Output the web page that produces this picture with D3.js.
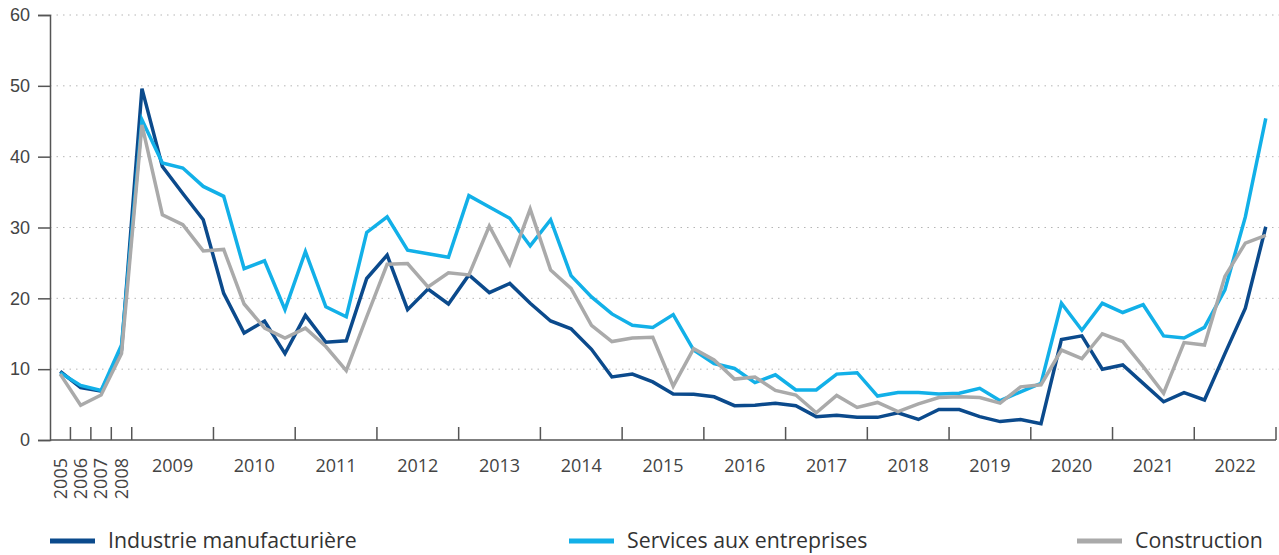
<!DOCTYPE html>
<html>
<head>
<meta charset="utf-8">
<script src="https://cdn.jsdelivr.net/npm/d3@7"></script>
<style>
  body { margin: 0; background: #fff; }
  svg { display: block; font-family: "Open Sans", "Noto Sans", sans-serif; }
</style>
</head>
<body>
<div id="chart"></div>
<script>
// annual points first, then quarterly
const annualYears = ["2005", "2006", "2007", "2008"];
const quarterYears = ["2009", "2010", "2011", "2012", "2013", "2014", "2015",
  "2016", "2017", "2018", "2019", "2020", "2021", "2022"];
const categories = annualYears.concat(
  quarterYears.flatMap(y => ["T1", "T2", "T3", "T4"].map(q => y + q))
);

const yTicks = [0, 10, 20, 30, 40, 50, 60];

const industrie = [9.7, 7.4, 6.9, 12.7,
  49.6, 38.6, 34.8, 31.1, 20.7, 15.1, 16.8, 12.2, 17.6, 13.8, 14.0, 22.8,
  26.1, 18.4, 21.3, 19.2, 23.3, 20.8, 22.1, 19.3, 16.8, 15.7, 12.8, 8.9,
  9.3, 8.2, 6.5, 6.45, 6.1, 4.85, 4.9, 5.2, 4.85, 3.3, 3.5, 3.2,
  3.2, 3.85, 2.9, 4.3, 4.3, 3.3, 2.6, 2.9, 2.3, 14.2, 14.7, 10.0,
  10.6, 8.0, 5.4, 6.7, 5.65, 12.2, 18.6, 30.1];

const services = [9.5, 7.7, 7.0, 13.4,
  45.2, 39.1, 38.4, 35.8, 34.4, 24.2, 25.3, 18.4, 26.6, 18.8, 17.4, 29.3,
  31.5, 26.8, 26.3, 25.8, 34.5, 32.9, 31.3, 27.4, 31.1, 23.2, 20.2, 17.8,
  16.2, 15.9, 17.7, 12.7, 10.8, 10.1, 8.1, 9.2, 7.06, 7.06, 9.3, 9.5,
  6.2, 6.7, 6.7, 6.5, 6.6, 7.3, 5.55, 6.8, 8.0, 19.3, 15.5, 19.3,
  18.0, 19.1, 14.7, 14.4, 15.9, 21.2, 31.5, 45.4];

const construction = [9.3, 4.9, 6.35, 12.2,
  44.5, 31.8, 30.4, 26.7, 26.9, 19.2, 15.8, 14.4, 15.8, 13.2, 9.8, 17.4,
  24.8, 24.9, 21.6, 23.6, 23.3, 30.2, 24.8, 32.6, 24.0, 21.4, 16.2, 13.9,
  14.4, 14.5, 7.6, 12.9, 11.3, 8.6, 8.9, 7.0, 6.35, 3.85, 6.3, 4.6,
  5.3, 4.0, 5.1, 6.0, 6.1, 6.0, 5.2, 7.5, 7.8, 12.7, 11.5, 15.0,
  13.9, 10.35, 6.6, 13.75, 13.4, 23.1, 27.8, 28.9];

const series = [
  { name: "Industrie manufacturière", values: industrie, color: "#0b4a8c", lx: 50 },
  { name: "Services aux entreprises", values: services, color: "#12b0e8", lx: 569 },
  { name: "Construction", values: construction, color: "#aaaaaa", lx: 1077 }
];

const W = 1279, H = 555;
const margin = { left: 50, right: 1276, top: 15, bottom: 440 };

const svg = d3.select("#chart").append("svg")
  .attr("width", W).attr("height", H);

const x = d3.scaleBand().domain(categories).range([margin.left, margin.right]).padding(0);
const y = d3.scaleLinear().domain([0, 60]).range([margin.bottom, margin.top]);
const cx = c => x(c) + x.bandwidth() / 2;

// grid
svg.append("g").selectAll("line")
  .data(yTicks.filter(d => d > 0))
  .enter().append("line")
  .attr("x1", margin.left).attr("x2", W)
  .attr("y1", d => y(d)).attr("y2", d => y(d))
  .attr("stroke", "#b5b5b5").attr("stroke-width", 1)
  .attr("stroke-dasharray", "1.5,5");

// y axis
const yAxis = svg.append("g")
  .attr("transform", `translate(${margin.left},0)`)
  .call(d3.axisLeft(y).tickValues(yTicks).tickSize(12).tickPadding(8).tickFormat(d3.format("d")));
yAxis.select(".domain").attr("stroke", "#555").attr("stroke-width", 1.5);
yAxis.selectAll(".tick line").attr("stroke", "#555").attr("stroke-width", 1.5);
yAxis.selectAll("text").attr("fill", "#444").style("font-size", "18px");

// x axis line and ticks at year boundaries
const xg = svg.append("g");
xg.append("line")
  .attr("x1", margin.left).attr("x2", margin.right)
  .attr("y1", margin.bottom).attr("y2", margin.bottom)
  .attr("stroke", "#555").attr("stroke-width", 1.5);

const boundaries = annualYears.slice(1).map(c => x(c))
  .concat(quarterYears.map(yr => x(yr + "T4") + x.bandwidth()));
boundaries.unshift(x(quarterYears[0] + "T1"));
xg.selectAll(".xt").data(boundaries).enter().append("line")
  .attr("x1", d => d).attr("x2", d => d)
  .attr("y1", margin.bottom).attr("y2", margin.bottom - 13)
  .attr("stroke", "#555").attr("stroke-width", 1.5);

// rotated annual labels
xg.selectAll(".al").data(annualYears).enter().append("text")
  .attr("transform", d => `translate(${cx(d)},458) rotate(-90)`)
  .attr("text-anchor", "end")
  .attr("dy", "0.35em")
  .attr("fill", "#444")
  .style("font-size", "18px")
  .text(d => d);

// quarterly year labels
xg.selectAll(".ql").data(quarterYears).enter().append("text")
  .attr("x", d => (x(d + "T1") + x(d + "T4") + x.bandwidth()) / 2)
  .attr("y", 472)
  .attr("text-anchor", "middle")
  .attr("fill", "#444")
  .style("font-size", "18px")
  .text(d => d);

// lines
const line = d3.line()
  .x((d, i) => cx(categories[i]))
  .y(d => y(d));

svg.append("g").selectAll("path")
  .data(series)
  .enter().append("path")
  .attr("d", d => line(d.values))
  .attr("fill", "none")
  .attr("stroke", d => d.color)
  .attr("stroke-width", 3.5)
  .attr("stroke-linejoin", "miter");

// legend
const lg = svg.append("g").selectAll("g")
  .data(series)
  .enter().append("g")
  .attr("transform", d => `translate(${d.lx},541)`);
lg.append("line")
  .attr("x1", 0).attr("x2", 45)
  .attr("stroke", d => d.color).attr("stroke-width", 5);
lg.append("text")
  .attr("x", 58).attr("dy", "0.35em")
  .attr("fill", "#333")
  .style("font-size", "21.3px")
  .text(d => d.name);
</script>
</body>
</html>
